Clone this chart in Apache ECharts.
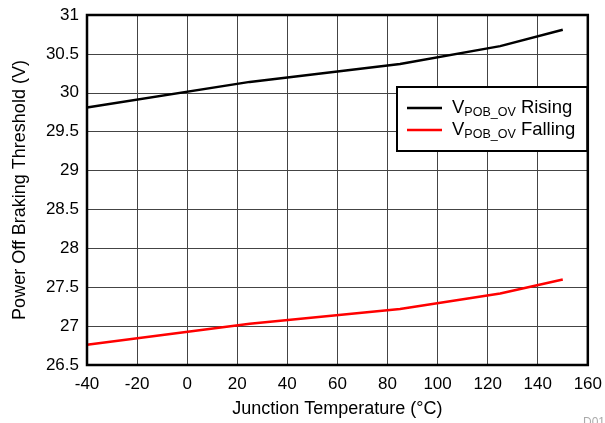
<!DOCTYPE html>
<html>
<head>
<meta charset="utf-8">
<script src="https://cdn.jsdelivr.net/npm/echarts@6/dist/echarts.min.js"></script>
<style>html,body{margin:0;padding:0;background:#fff}#c{width:605px;height:423px}</style>
</head>
<body>
<div id="c"></div>
<script>
const temps = [-40, 25, 85, 125, 150];
const rising = [29.81, 30.14, 30.37, 30.60, 30.81];
const falling = [26.76, 27.03, 27.22, 27.42, 27.60];
const seriesNames = ['Rising', 'Falling'];
const xTitle = 'Junction Temperature (°C)';
const yTitle = 'Power Off Braking Threshold (V)';

const font = 'Liberation Sans, Arial, Helvetica, sans-serif';
const chart = echarts.init(document.getElementById('c'), null, {renderer: 'canvas'});
const toPts = (ys) => temps.map((t, i) => [t, ys[i]]);
chart.setOption({
  animation: false,
  backgroundColor: '#fff',
  grid: {left: 87, right: 17, top: 15, bottom: 54, show: true, borderColor: '#000', borderWidth: 2.5, z: 10},
  xAxis: {
    type: 'value', min: -40, max: 160, interval: 20,
    name: xTitle, nameLocation: 'middle', nameGap: 35,
    nameTextStyle: {fontFamily: font, fontSize: 18, color: '#000'},
    axisLine: {show: false}, axisTick: {show: false},
    axisLabel: {fontFamily: font, fontSize: 17, color: '#000', margin: 11},
    splitLine: {show: true, lineStyle: {color: '#444', width: 1}}
  },
  yAxis: {
    type: 'value', min: 26.5, max: 31, interval: 0.5,
    name: yTitle, nameLocation: 'middle', nameGap: 58,
    nameTextStyle: {fontFamily: font, fontSize: 18, color: '#000'},
    axisLine: {show: false}, axisTick: {show: false},
    axisLabel: {fontFamily: font, fontSize: 17, color: '#000', margin: 8},
    splitLine: {show: true, lineStyle: {color: '#444', width: 1}}
  },
  legend: {
    left: 397, top: 87, orient: 'vertical',
    backgroundColor: '#fff', borderColor: '#000', borderWidth: 2,
    padding: [10, 12, 10, 10], itemGap: 0,
    icon: 'rect', itemWidth: 35, itemHeight: 2.5,
    data: seriesNames,
    formatter: (n) => '{v|V}{s|POB_OV}{t| ' + n + '}',
    textStyle: {
      fontFamily: font, fontSize: 18, color: '#000',
      rich: {
        v: {fontFamily: font, fontSize: 18.5, color: '#000', padding: [0, 0, 0, 5], lineHeight: 20},
        s: {fontFamily: font, fontSize: 12.5, color: '#000', padding: [9, 0, 0, 0], lineHeight: 20},
        t: {fontFamily: font, fontSize: 18.5, color: '#000', lineHeight: 20}
      }
    }
  },
  graphic: [{type: 'text', right: 0, bottom: -6, style: {text: 'D01', fontFamily: font, fontSize: 12, fill: '#aaa'}}],
  series: [
    {name: seriesNames[0], type: 'line', data: toPts(rising), showSymbol: false, symbol: 'none', lineStyle: {color: '#000', width: 2.5}, itemStyle: {color: '#000'}},
    {name: seriesNames[1], type: 'line', data: toPts(falling), showSymbol: false, symbol: 'none', lineStyle: {color: '#f00', width: 2.5}, itemStyle: {color: '#f00'}}
  ]
});
</script>
</body>
</html>
